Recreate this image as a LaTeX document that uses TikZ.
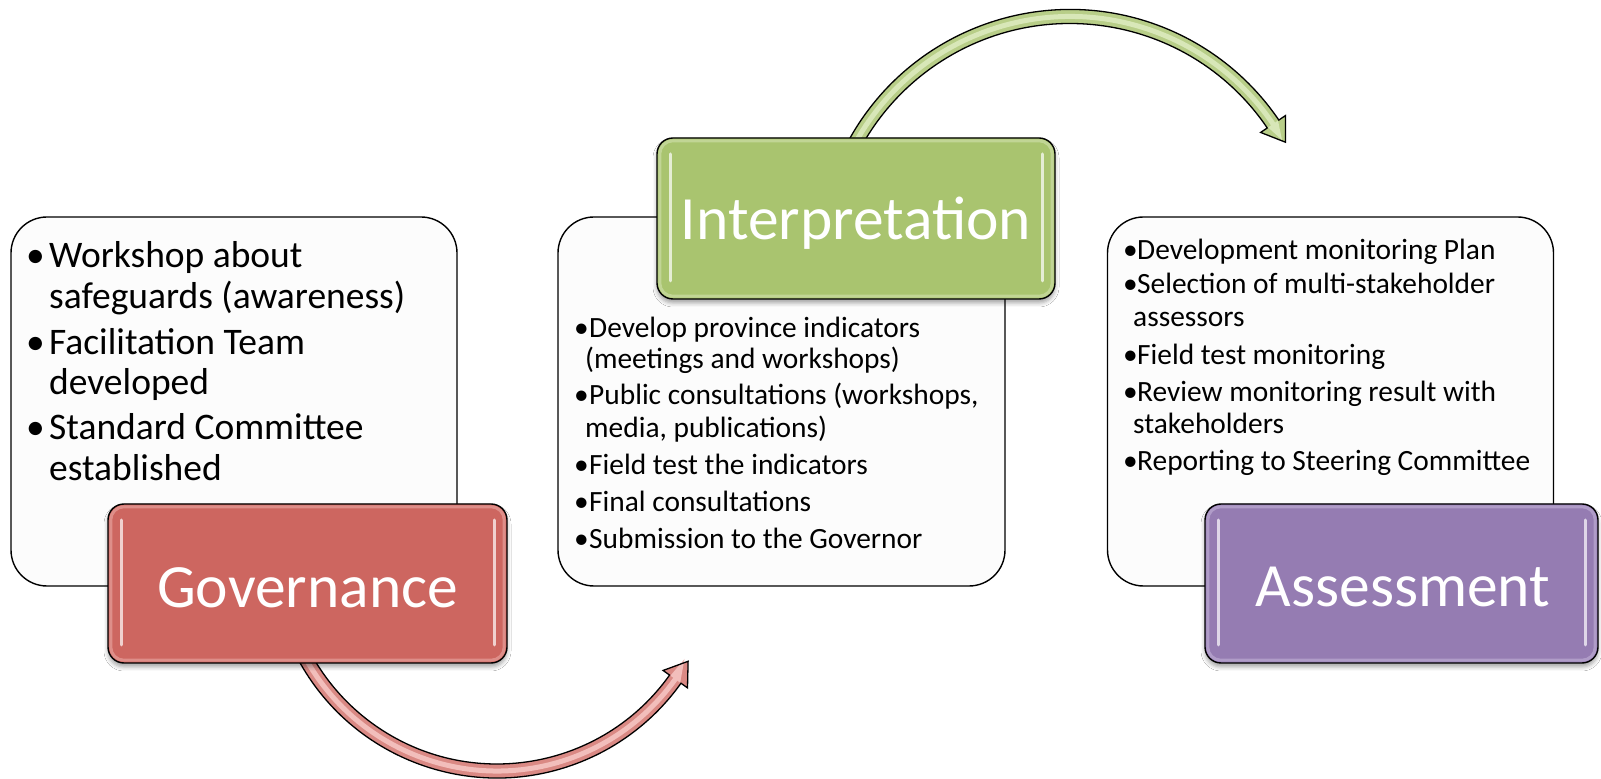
\documentclass[tikz,border=0pt]{standalone}
\usepackage{fontspec}
\setmainfont{Carlito}
\usetikzlibrary{shadows.blur}
\definecolor{govfill}{RGB}{205,102,96}
\definecolor{govrim}{RGB}{226,150,145}
\definecolor{intfill}{RGB}{169,196,111}
\definecolor{intrim}{RGB}{198,217,156}
\definecolor{assfill}{RGB}{149,124,178}
\definecolor{assrim}{RGB}{181,162,204}
\definecolor{redarrow}{RGB}{218,137,132}
\definecolor{redlight}{RGB}{242,190,187}
\definecolor{grnarrow}{RGB}{184,206,136}
\definecolor{grnlight}{RGB}{216,231,184}
\definecolor{boxwhite}{RGB}{252,252,252}
\tikzset{
  wbox/.style={draw=black, line width=1.4pt, rounded corners=36pt, fill=boxwhite, outer sep=0pt, inner sep=0pt},
  cbox/.style={draw=black, line width=1.4pt, rounded corners=16pt, outer sep=0pt, inner sep=0pt,
    blur shadow={shadow xshift=0pt, shadow yshift=-4pt, shadow blur radius=4pt, shadow opacity=35}},
  bigtxt/.style={text=white, font=\fontsize{61.5}{72}\selectfont, anchor=base, inner sep=0pt},
  ltxt/.style={anchor=base west, inner sep=0pt, font=\fontsize{37.5}{44}\selectfont},
  stxt/.style={anchor=base west, inner sep=0pt, font=\fontsize{29.4}{35}\selectfont},
  fatarrow/.style={draw=black, line width=1.3pt, line join=miter},
}
\newcommand{\glossbox}[2]{%
  \draw[#2, line width=3pt, rounded corners=13pt, opacity=0.85] ([shift={(2.8pt,2.8pt)}]#1.south west) rectangle ([shift={(-2.8pt,-2.8pt)}]#1.north east);
  \draw[white, opacity=0.7, line width=3pt, line cap=round] ([shift={(13pt,18pt)}]#1.south west) -- ([shift={(13pt,-16pt)}]#1.north west);
  \draw[white, opacity=0.7, line width=3pt, line cap=round] ([shift={(-13pt,18pt)}]#1.south east) -- ([shift={(-13pt,-16pt)}]#1.north east);
}
\begin{document}
\begin{tikzpicture}[x=1pt,y=1pt]
\useasboundingbox (0,0) rectangle (1601,779);
\fill[white] (0,0) rectangle (1601,779);

% ---- curved arrows ----
\begin{scope}[shift={(497,227)}]
  \fill[redarrow] (205:226) arc[start angle=205, end angle=324.5, radius=226] -- (324.5:234) -- (191.1,-109.3) -- (324.5:204) -- (324.5:212) arc[start angle=324.5, end angle=205, radius=212] -- cycle;
  \draw[redlight, line width=5pt] (205:219) arc[start angle=205, end angle=325, radius=219];
  \fill[redlight] (324.5:225) -- (187.5,-107) -- (324.5:213) -- cycle;
  \draw[fatarrow] (205:226) arc[start angle=205, end angle=324.5, radius=226] -- (324.5:234) -- (191.1,-109.3) -- (324.5:204) -- (324.5:212) arc[start angle=324.5, end angle=205, radius=212];
\end{scope}
\begin{scope}[shift={(1070,517)}]
  \fill[grnarrow] (155:252.5) arc[start angle=155, end angle=34.2, radius=252.5] -- (34.2:260.5) -- (215.4,119.8) -- (34.2:230.5) -- (34.2:238.5) arc[start angle=34.2, end angle=155, radius=238.5] -- cycle;
  \draw[grnlight, line width=5pt] (155:245.5) arc[start angle=155, end angle=34, radius=245.5];
  \fill[grnlight] (34.2:251.5) -- (212,122) -- (34.2:239.5) -- cycle;
  \draw[fatarrow] (155:252.5) arc[start angle=155, end angle=34.2, radius=252.5] -- (34.2:260.5) -- (215.4,119.8) -- (34.2:230.5) -- (34.2:238.5) arc[start angle=34.2, end angle=155, radius=238.5];
\end{scope}

% ---- white boxes ----
\node[wbox, minimum width=446pt, minimum height=369pt] (lbox) at (234,377.5) {};
\node[wbox, minimum width=447pt, minimum height=369pt] (mbox) at (781.5,377.5) {};
\node[wbox, minimum width=446pt, minimum height=369pt] (rbox) at (1330.5,377.5) {};

% ---- left texts ----
\node[ltxt] (l1) at (26,511) {\makebox[23pt][l]{•}Workshop about};
\node[ltxt] (l2) at (49,470) {safeguards (awareness)};
\node[ltxt] (l3) at (26,424) {\makebox[23pt][l]{•}Facilitation Team};
\node[ltxt] (l4) at (49,384) {developed};
\node[ltxt] (l5) at (26,339) {\makebox[23pt][l]{•}Standard Committee};
\node[ltxt] (l6) at (49,298) {established};

% ---- middle texts ----
\node[stxt] (m1) at (574,441) {\makebox[15pt][l]{•}Develop province indicators};
\node[stxt] (m2) at (585,410) {(meetings and workshops)};
\node[stxt] (m3) at (574,374) {\makebox[15pt][l]{•}Public consultations (workshops,};
\node[stxt] (m4) at (585,341) {media, publications)};
\node[stxt] (m5) at (574,304) {\makebox[15pt][l]{•}Field test the indicators};
\node[stxt] (m6) at (574,267) {\makebox[15pt][l]{•}Final consultations};
\node[stxt] (m7) at (574,230) {\makebox[15pt][l]{•}Submission to the Governor};

% ---- right texts ----
\node[stxt] (r1) at (1123,519) {\makebox[14pt][l]{•}Development monitoring Plan};
\node[stxt] (r2) at (1123,485) {\makebox[14pt][l]{•}Selection of multi-stakeholder};
\node[stxt] (r3) at (1133,452) {assessors};
\node[stxt] (r4) at (1123,414) {\makebox[14pt][l]{•}Field test monitoring};
\node[stxt] (r5) at (1123,377) {\makebox[14pt][l]{•}Review monitoring result with};
\node[stxt] (r6) at (1133,345) {stakeholders};
\node[stxt] (r7) at (1123,308) {\makebox[14pt][l]{•}Reporting to Steering Committee};

% ---- coloured boxes ----
\node[cbox, fill=govfill, minimum width=399pt, minimum height=159pt] (gov) at (307.5,195.5) {};
\glossbox{gov}{govrim}
\node[bigtxt] (govt) at (307.5,171) {Governance};

\node[cbox, fill=intfill, minimum width=398pt, minimum height=161pt] (int) at (856,560.5) {};
\glossbox{int}{intrim}
\node[bigtxt] (intt) at (856,539) {Interpretation};

\node[cbox, fill=assfill, minimum width=393pt, minimum height=159pt] (ass) at (1401.5,195.5) {};
\glossbox{ass}{assrim}
\node[bigtxt] (asst) at (1403,172) {Assessment};
\end{tikzpicture}
\end{document}
